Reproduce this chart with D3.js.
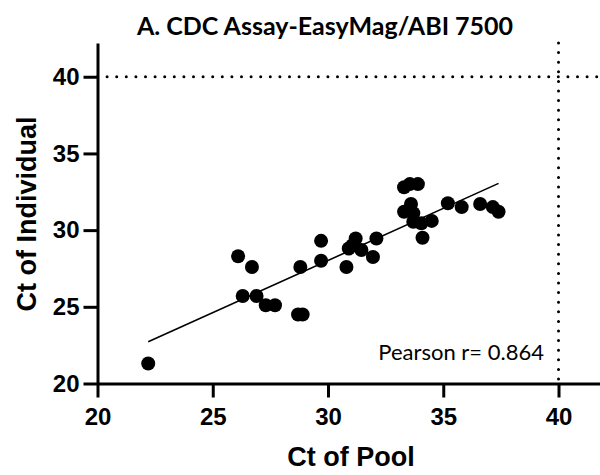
<!DOCTYPE html>
<html lang="en">
  <head>
    <meta charset="utf-8">
    <title>CDC Assay EasyMag ABI 7500</title>
    <script src="https://d3js.org/d3.v7.js"></script>
    <style>
      body { margin: 0; background: white; }
    </style>
  </head>

  <body>
    <script>

      // Ct values: pool vs individual
      const ctPool = [22.2, 26.1, 26.7, 26.3, 26.9, 27.3, 27.7, 28.7, 28.9, 28.8,
                      29.7, 29.7, 30.8, 30.9, 31.2, 31.05, 31.45, 32.1, 31.95,
                      33.3, 33.55, 33.9, 33.6, 33.3, 33.7, 33.7, 34.05, 34.5, 34.1,
                      35.2, 35.8, 36.6, 37.15, 37.4];
      const ctIndividual = [21.3, 28.3, 27.6, 25.7, 25.7, 25.1, 25.1, 24.5, 24.5, 27.6,
                            29.3, 28.0, 27.6, 28.8, 29.45, 29.0, 28.7, 29.45, 28.25,
                            32.8, 33.0, 33.0, 31.7, 31.2, 31.1, 30.55, 30.45, 30.6, 29.5,
                            31.75, 31.5, 31.7, 31.5, 31.2];
      const xTicks = [20, 25, 30, 35, 40];
      const yTicks = [20, 25, 30, 35, 40];
      const cutoff = 40;
      const pearsonLabel = "Pearson r= 0.864";

      const w = 600;
      const h = 475;

      const points = ctPool.map((d, i) => ({x: d, y: ctIndividual[i]}));

      const xScale = d3.scaleLinear()
                       .domain([20, 41.8])
                       .range([97.5, 600]);

      const yScale = d3.scaleLinear()
                       .domain([20, 42.2])
                       .range([383.5, 43]);

      const svg = d3.select("body")
                    .append("svg")
                    .attr("width", w)
                    .attr("height", h);

      svg.append("rect")
         .attr("width", w)
         .attr("height", h)
         .attr("fill", "white");

      // dotted cutoff lines at Ct 40
      svg.append("line")
         .attr("x1", xScale(20)).attr("x2", xScale.range()[1])
         .attr("y1", yScale(cutoff)).attr("y2", yScale(cutoff))
         .attr("stroke", "black")
         .attr("stroke-width", 3)
         .attr("stroke-linecap", "round")
         .attr("stroke-dasharray", "0 9.6");

      svg.append("line")
         .attr("x1", xScale(cutoff)).attr("x2", xScale(cutoff))
         .attr("y1", yScale.range()[1]).attr("y2", yScale(20))
         .attr("stroke", "black")
         .attr("stroke-width", 3)
         .attr("stroke-linecap", "round")
         .attr("stroke-dasharray", "0 9.6");

      // least squares fit line
      const mx = d3.mean(ctPool), my = d3.mean(ctIndividual);
      const slope = d3.sum(points, d => (d.x - mx) * (d.y - my)) / d3.sum(points, d => (d.x - mx) ** 2);
      const icpt = my - slope * mx;
      const [x0, x1] = d3.extent(ctPool);

      svg.append("line")
         .attr("x1", xScale(x0)).attr("y1", yScale(icpt + slope * x0))
         .attr("x2", xScale(x1)).attr("y2", yScale(icpt + slope * x1))
         .attr("stroke", "black")
         .attr("stroke-width", 1.6);

      svg.append("g")
         .selectAll("circle")
         .data(points)
         .enter().append("circle")
         .attr("cx", d => xScale(d.x))
         .attr("cy", d => yScale(d.y))
         .attr("r", 7)
         .attr("fill", "black");

      // axes
      const xAxis = d3.axisBottom(xScale)
                      .tickValues(xTicks)
                      .tickSize(14)
                      .tickSizeOuter(0)
                      .tickPadding(10);

      const yAxis = d3.axisLeft(yScale)
                      .tickValues(yTicks)
                      .tickSize(14)
                      .tickSizeOuter(0)
                      .tickPadding(4);

      const gx = svg.append("g")
                    .attr("transform", `translate(0, ${yScale(20)})`)
                    .call(xAxis);

      const gy = svg.append("g")
                    .attr("transform", `translate(${xScale(20)}, 0)`)
                    .call(yAxis);

      [gx, gy].forEach(g => {
        g.selectAll("path, line").attr("stroke", "black").attr("stroke-width", 3);
        g.selectAll("text")
         .attr("fill", "black")
         .style("font-family", "'Liberation Sans', Arial, sans-serif")
         .style("font-weight", "bold")
         .style("font-size", "24px");
      });

      // titles
      svg.append("text")
         .attr("x", 325)
         .attr("y", 35)
         .attr("text-anchor", "middle")
         .style("font-family", "Lato, sans-serif")
         .style("font-weight", "bold")
         .style("font-size", "25px")
         .text("A. CDC Assay-EasyMag/ABI 7500");

      svg.append("text")
         .attr("x", 351)
         .attr("y", 466)
         .attr("text-anchor", "middle")
         .style("font-family", "'Liberation Sans', Arial, sans-serif")
         .style("font-weight", "bold")
         .style("font-size", "27px")
         .text("Ct of Pool");

      svg.append("text")
         .attr("transform", "translate(36, 214) rotate(-90)")
         .attr("text-anchor", "middle")
         .style("font-family", "'Liberation Sans', Arial, sans-serif")
         .style("font-weight", "bold")
         .style("font-size", "27px")
         .text("Ct of Individual");

      svg.append("text")
         .attr("x", 544)
         .attr("y", 360)
         .attr("text-anchor", "end")
         .style("font-family", "Lato, sans-serif")
         .style("font-size", "22px")
         .text(pearsonLabel);

    </script>
  </body>
</html>
